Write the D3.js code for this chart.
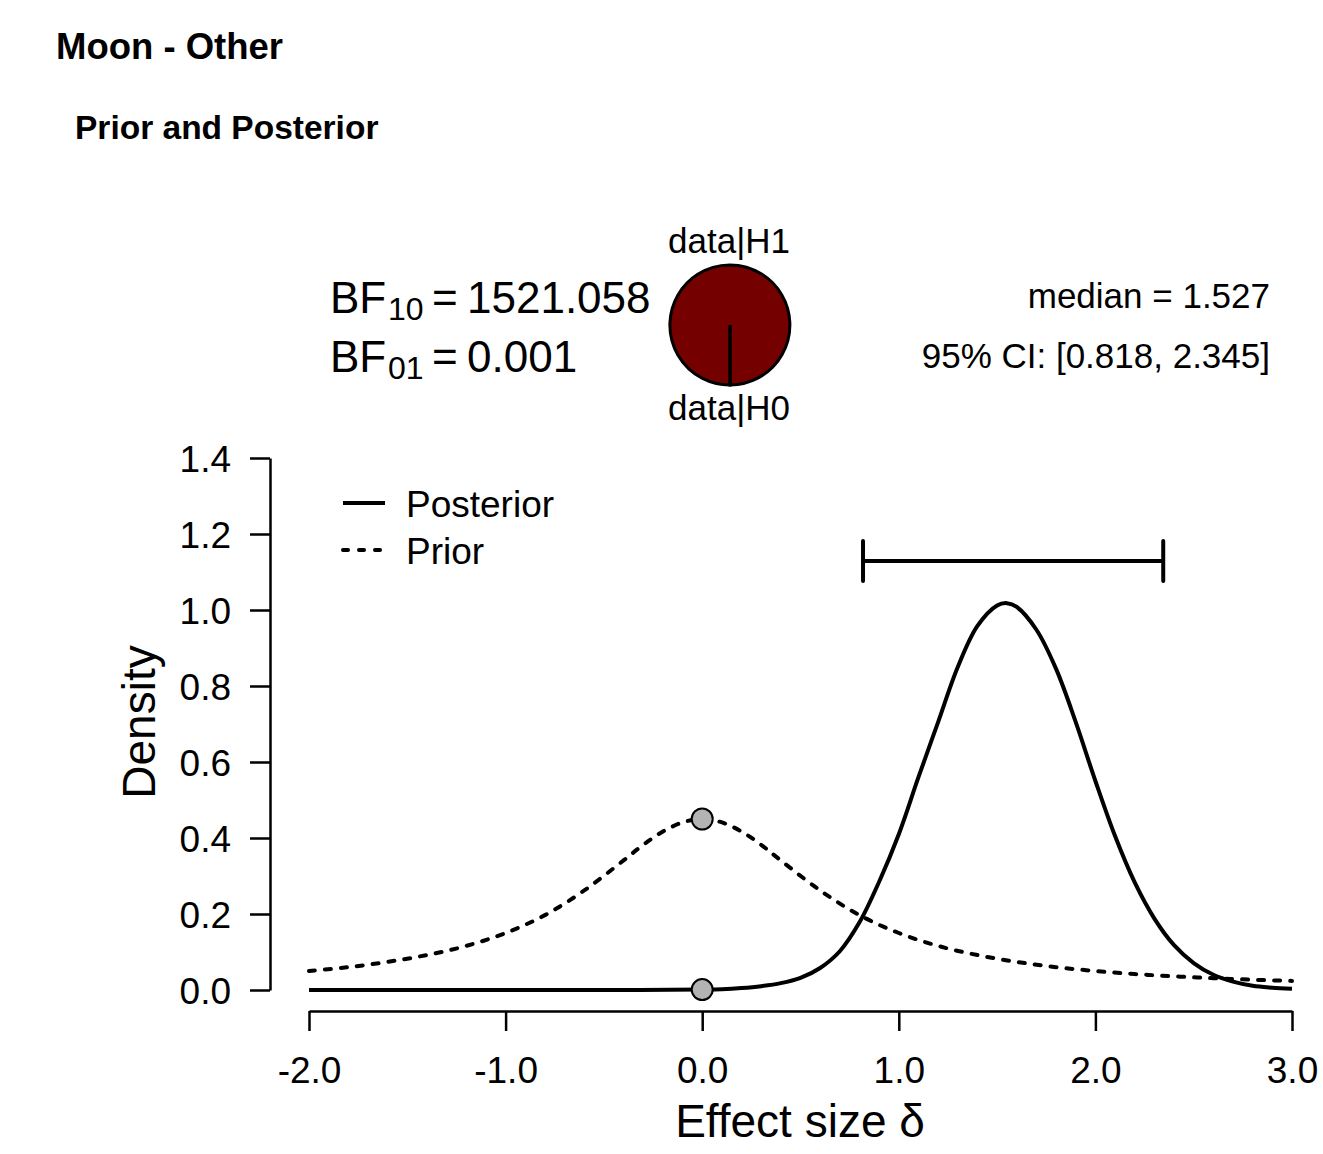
<!DOCTYPE html>
<html>
<head>
<meta charset="utf-8">
<script src="https://cdn.jsdelivr.net/npm/d3@7"></script>
<style>
  body { margin: 0; background: #fff; }
  text { font-family: "Liberation Sans", Arial, Helvetica, sans-serif; fill: #000; }
</style>
</head>
<body>
<svg id="chart"></svg>
<script>
const priorX = [-2.0, -1.8, -1.6, -1.4, -1.2, -1.0, -0.8, -0.6, -0.4, -0.3, -0.2, -0.1, 0.0,
    0.1, 0.2, 0.3, 0.4, 0.6, 0.8, 1.0, 1.2, 1.4, 1.6, 1.8, 2.0, 2.2, 2.4, 2.6, 2.8, 3.0];
const priorY = [0.050, 0.060, 0.074, 0.092, 0.116, 0.150, 0.197, 0.262, 0.341, 0.382, 0.417, 0.441, 0.450,
    0.441, 0.417, 0.382, 0.341, 0.262, 0.197, 0.150, 0.116, 0.092, 0.074, 0.060, 0.050, 0.042, 0.036, 0.031, 0.027, 0.024];

const postX = [-2.0, -1.0, -0.5, 0.0, 0.1, 0.2, 0.3, 0.4, 0.5, 0.6, 0.7, 0.8, 0.9, 1.0, 1.1, 1.2, 1.3, 1.4,
    1.5, 1.55, 1.6, 1.7, 1.8, 1.9, 2.0, 2.1, 2.2, 2.3, 2.4, 2.5, 2.6, 2.7, 2.8, 2.9, 3.0];
const postY = [0, 0, 0, 0.001, 0.002, 0.005, 0.010, 0.018, 0.032, 0.058, 0.102, 0.178, 0.285, 0.410, 0.560, 0.705, 0.850, 0.958,
    1.012, 1.018, 1.008, 0.948, 0.845, 0.705, 0.550, 0.405, 0.283, 0.188, 0.118, 0.071, 0.040, 0.022, 0.011, 0.006, 0.003];

const xTicks = [-2, -1, 0, 1, 2, 3];
const yTicks = [0, 0.2, 0.4, 0.6, 0.8, 1.0, 1.2, 1.4];

const ci = [0.818, 2.345];
const median = 1.527;
const bf10 = 1521.058;
const bf01 = 0.001;
const testPoint = 0;
const priorAtPoint = 0.450;
const postAtPoint = 0.001;

const W = 1323, H = 1154;
const svg = d3.select("#chart").attr("width", W).attr("height", H);

svg.append("text").attr("x", 56).attr("y", 59)
    .style("font-size", "36.5px").style("font-weight", "bold").text("Moon - Other");
svg.append("text").attr("x", 75).attr("y", 139)
    .style("font-size", "33.5px").style("font-weight", "bold").text("Prior and Posterior");

const x = d3.scaleLinear().domain([-2, 3]).range([309, 1292]);
const y = d3.scaleLinear().domain([0, 1.4]).range([990, 458]);

const fmt = d => d3.format(".1f")(d).replace("−", "-");

// axes
const xAxis = svg.append("g")
    .attr("transform", "translate(0,1011)")
    .call(d3.axisBottom(x).tickValues(xTicks).tickSize(20).tickSizeOuter(0).tickPadding(26).tickFormat(fmt));
const yAxis = svg.append("g")
    .attr("transform", "translate(270,0)")
    .call(d3.axisLeft(y).tickValues(yTicks).tickSize(20).tickSizeOuter(0).tickPadding(19).tickFormat(fmt));

[xAxis, yAxis].forEach(a => {
    a.select(".domain").attr("stroke", "#000").attr("stroke-width", 2.5);
    a.selectAll(".tick line").attr("stroke", "#000").attr("stroke-width", 2.5);
    a.selectAll(".tick text").style("font-size", "37px").attr("font-family", null);
});
xAxis.selectAll(".tick text").attr("dy", "0.71em");
yAxis.selectAll(".tick text").attr("dy", "0.36em");

svg.append("text").attr("x", 800).attr("y", 1137).attr("text-anchor", "middle")
    .style("font-size", "46px").text("Effect size δ");
svg.append("text").attr("transform", "translate(155,722) rotate(-90)").attr("text-anchor", "middle")
    .style("font-size", "46px").text("Density");

// curves
const line = d3.line().x(d => x(d[0])).y(d => y(d[1])).curve(d3.curveCatmullRom.alpha(0.5));

svg.append("path")
    .datum(d3.zip(priorX, priorY))
    .attr("fill", "none").attr("stroke", "#000").attr("stroke-width", 4)
    .attr("stroke-dasharray", "6,10").attr("stroke-linecap", "round")
    .attr("d", line);

svg.append("path")
    .datum(d3.zip(postX, postY))
    .attr("fill", "none").attr("stroke", "#000").attr("stroke-width", 4)
    .attr("d", line);

// credible interval
const ciY = 561;
svg.append("line").attr("x1", x(ci[0])).attr("x2", x(ci[1])).attr("y1", ciY).attr("y2", ciY)
    .attr("stroke", "#000").attr("stroke-width", 4);
ci.forEach(v => {
    svg.append("line").attr("x1", x(v)).attr("x2", x(v)).attr("y1", ciY - 20).attr("y2", ciY + 20)
        .attr("stroke", "#000").attr("stroke-width", 4).attr("stroke-linecap", "round");
});

// points at test value
[priorAtPoint, postAtPoint].forEach(v => {
    svg.append("circle").attr("cx", x(testPoint)).attr("cy", y(v)).attr("r", 10.5)
        .attr("fill", "#b3b3b3").attr("stroke", "#000").attr("stroke-width", 2);
});

// legend
const legend = [["Posterior", false], ["Prior", true]];
legend.forEach(([name, dashed], i) => {
    const ly = 503 + i * 47;
    svg.append("line").attr("x1", 343).attr("x2", 385).attr("y1", ly).attr("y2", ly)
        .attr("stroke", "#000").attr("stroke-width", 4)
        .attr("stroke-dasharray", dashed ? "5,11" : null).attr("stroke-linecap", dashed ? "round" : "butt");
    svg.append("text").attr("x", 406).attr("y", ly + 14).style("font-size", "37px").text(name);
});

// Bayes factor text
const bfRows = [["10", bf10.toFixed(3), 313], ["01", bf01.toFixed(3), 372]];
bfRows.forEach(([sub, val, by]) => {
    svg.append("text").attr("x", 330).attr("y", by).style("font-size", "44px").text("BF");
    svg.append("text").attr("x", 388).attr("y", by + 7).style("font-size", "32px").text(sub);
    svg.append("text").attr("x", 432).attr("y", by).style("font-size", "44px").text("=");
    svg.append("text").attr("x", 467).attr("y", by).style("font-size", "44px").text(val);
});

// pie
const pieData = [{ k: "H1", v: bf10 }, { k: "H0", v: 1 }];
const pie = d3.pie().value(d => d.v).sort(null).startAngle(Math.PI).endAngle(3 * Math.PI);
const arc = d3.arc().innerRadius(0).outerRadius(60);
svg.append("g").attr("transform", "translate(730,325)")
    .selectAll("path").data(pie(pieData)).join("path")
    .attr("d", arc)
    .attr("fill", d => d.data.k === "H1" ? "#750000" : "#fff")
    .attr("stroke", "#000").attr("stroke-width", 3);
svg.append("text").attr("x", 729).attr("y", 253).attr("text-anchor", "middle").style("font-size", "35px").text("data|H1");
svg.append("text").attr("x", 729).attr("y", 420).attr("text-anchor", "middle").style("font-size", "35px").text("data|H0");

// median and CI
svg.append("text").attr("x", 1270).attr("y", 308).attr("text-anchor", "end").style("font-size", "35px")
    .text(`median = ${median.toFixed(3)}`);
svg.append("text").attr("x", 1270).attr("y", 368).attr("text-anchor", "end").style("font-size", "35px")
    .text(`95% CI: [${ci[0].toFixed(3)}, ${ci[1].toFixed(3)}]`);
</script>
</body>
</html>
